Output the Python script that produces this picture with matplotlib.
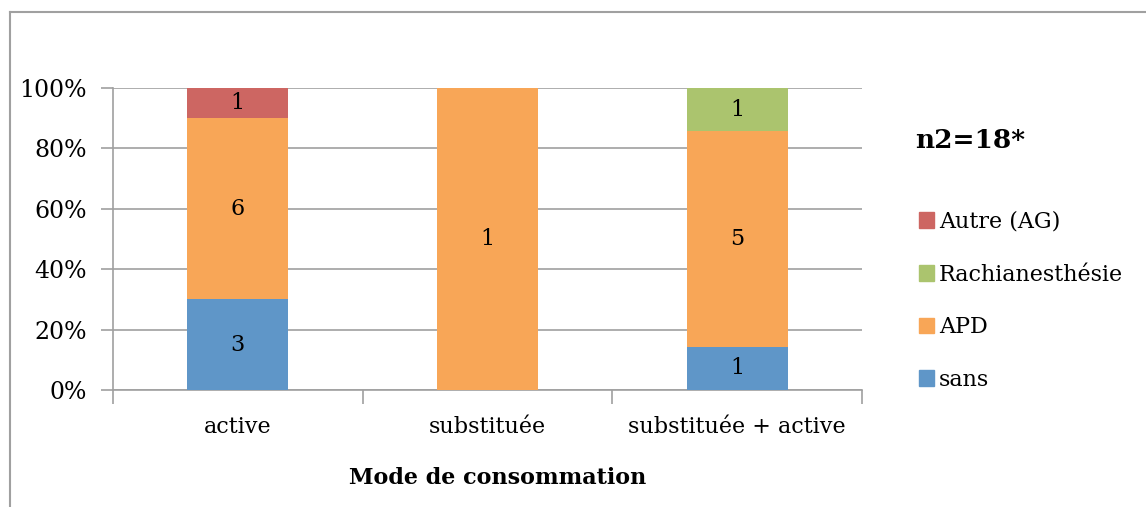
import numpy as np
import matplotlib
matplotlib.use('Agg')
import matplotlib.pyplot as plt
from matplotlib.lines import Line2D
from matplotlib.patches import Patch

# Data (counts per category)
categories = ['active', 'substituée', 'substituée + active']
series_names = ['sans', 'APD', 'Rachianesthésie', 'Autre (AG)']
sans = [3, 0, 1]
apd = [6, 1, 5]
rachi = [0, 0, 1]
autre = [1, 0, 0]
colors = ['#5F96C8', '#F8A657', '#ABC46E', '#CD6662']

plt.rcParams['font.family'] = ['DejaVu Serif']

counts = np.array([sans, apd, rachi, autre], dtype=float)
totals = counts.sum(axis=0)
pct = counts / totals * 100

fig = plt.figure(figsize=(11.46, 5.07), dpi=100)
ax = fig.add_axes([113 / 1146, 1 - 390 / 507, 749 / 1146, 302 / 507])

x = np.arange(len(categories))
bottom = np.zeros(len(categories))
for i, name in enumerate(series_names):
    ax.bar(x, pct[i], bottom=bottom, width=0.405, color=colors[i], zorder=3)
    for j in range(len(categories)):
        if counts[i, j] > 0:
            ax.text(x[j], bottom[j] + pct[i, j] / 2, '%d' % counts[i, j],
                    ha='center', va='center', fontsize=16, zorder=4)
    bottom += pct[i]

ax.set_xlim(-0.5, len(categories) - 0.5)
ax.set_ylim(0, 100)
ax.set_yticks(np.arange(0, 101, 20))
ax.set_yticklabels(['%d%%' % v for v in range(0, 101, 20)], fontsize=17)
ax.yaxis.grid(True, color='#A0A0A0', linewidth=1.2, zorder=0)
ax.tick_params(axis='y', length=9, color='#A0A0A0', width=1.2, pad=10)

# category ticks at boundaries, labels centered
ax.set_xticks(np.arange(-0.5, len(categories), 1.0))
ax.set_xticklabels([])
ax.set_xticks(x, minor=True)
ax.set_xticklabels(categories, minor=True, fontsize=16)
ax.tick_params(axis='x', which='major', length=10, color='#A0A0A0', width=1.2)
ax.tick_params(axis='x', which='minor', length=0, pad=19)

for s in ['top', 'right']:
    ax.spines[s].set_visible(False)
for s in ['left', 'bottom']:
    ax.spines[s].set_color('#A0A0A0')
    ax.spines[s].set_linewidth(1.2)

ax.set_xlabel('Mode de consommation', fontsize=16, fontweight='bold')
ax.xaxis.set_label_coords(0.513, -0.255)

fig.text(915 / 1146, 1 - 140 / 507, 'n2=18*', fontsize=19, fontweight='bold', va='center')

handles = [Patch(color=colors[i]) for i in [3, 2, 1, 0]]
labels = [series_names[i] for i in [3, 2, 1, 0]]
fig.legend(handles, labels, loc='upper left', bbox_to_anchor=(910 / 1146, 1 - 202 / 507),
           frameon=False, fontsize=16, handlelength=0.7, handleheight=0.7,
           handletextpad=0.2, labelspacing=1.38, borderaxespad=0)

# outer chart border (left and top edges visible)
fig.add_artist(Line2D([9.5 / 1146, 9.5 / 1146], [0, 1 - 12 / 507], transform=fig.transFigure,
                      color='#A0A0A0', linewidth=1.5))
fig.add_artist(Line2D([9.5 / 1146, 1], [1 - 12 / 507, 1 - 12 / 507], transform=fig.transFigure,
                      color='#A0A0A0', linewidth=1.5))

fig.savefig('out.png', dpi=100)
